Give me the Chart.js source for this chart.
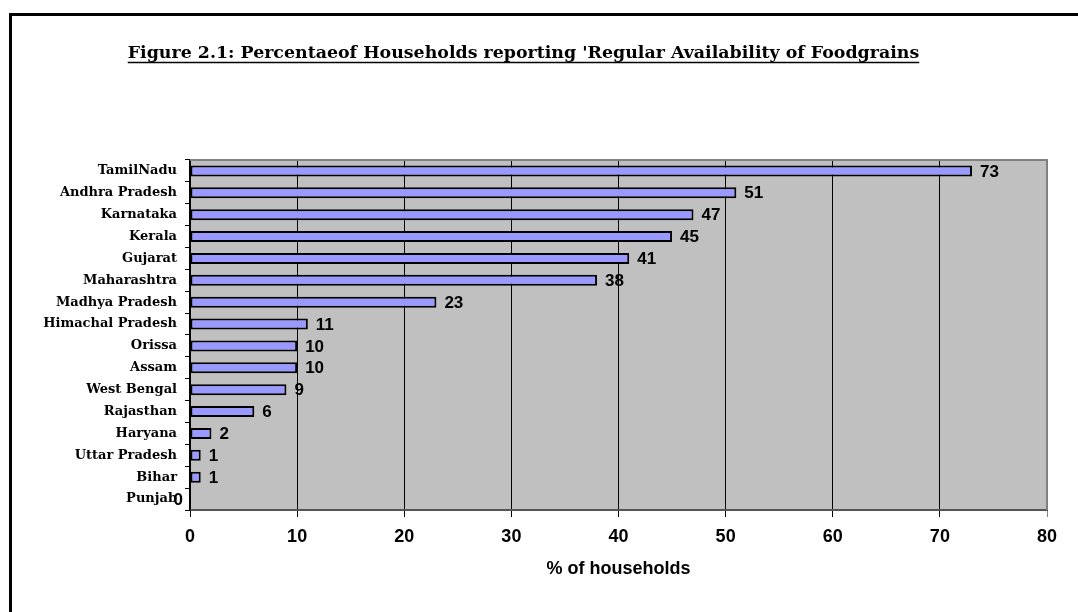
<!DOCTYPE html>
<html>
<head>
<meta charset="utf-8">
<script src="https://cdn.jsdelivr.net/npm/chart.js@4/dist/chart.umd.min.js"></script>
<style>
  body { margin: 0; background: #fff; }
  #wrap { position: relative; width: 1078px; height: 612px; overflow: hidden; }
  #frame { position: absolute; left: 9px; top: 13px; width: 1200px; height: 800px;
           border-left: 3px solid #000; border-top: 3px solid #000; }
  canvas { position: absolute; left: 0; top: 0; }
</style>
</head>
<body>
<div id="wrap">
  <div id="frame"></div>
  <canvas id="barChart" width="1078" height="612"></canvas>
</div>
<script>
// * data
const states = [
  "TamilNadu", "Andhra Pradesh", "Karnataka", "Kerala", "Gujarat",
  "Maharashtra", "Madhya Pradesh", "Himachal Pradesh", "Orissa", "Assam",
  "West Bengal", "Rajasthan", "Haryana", "Uttar Pradesh", "Bihar", "Punjab",
];
const households = [73, 51, 47, 45, 41, 38, 23, 11, 10, 10, 9, 6, 2, 1, 1, 0];
const xTicks = [0, 10, 20, 30, 40, 50, 60, 70, 80];

const titleText = "Figure 2.1: Percentaeof Households reporting 'Regular Availability of Foodgrains";
const serif = "'DejaVu Serif', 'Liberation Serif', serif";
const sans = "'Liberation Sans', Arial, sans-serif";
const titleSize = 17.4;

// * plugins
const plotArea = {
  id: "plotArea",
  beforeDraw(chart) {
    const { ctx, chartArea: a } = chart;
    ctx.save();
    ctx.fillStyle = "#c0c0c0";
    ctx.fillRect(a.left, a.top, a.right - a.left, a.bottom - a.top);
    ctx.restore();
  },
  afterDraw(chart) {
    const { ctx, chartArea: a } = chart;
    ctx.save();
    ctx.strokeStyle = "#808080";
    ctx.lineWidth = 2;
    ctx.beginPath();
    ctx.moveTo(a.left, a.top);
    ctx.lineTo(a.right, a.top);
    ctx.lineTo(a.right, a.bottom);
    ctx.stroke();

    // underline the title
    const tb = chart.titleBlock;
    ctx.font = "bold " + titleSize + "px " + serif;
    const w = ctx.measureText(titleText).width;
    const cx = (tb.left + tb.right) / 2;
    ctx.strokeStyle = "#000";
    ctx.lineWidth = 1.3;
    ctx.beginPath();
    ctx.moveTo(cx - w / 2, 62.5);
    ctx.lineTo(cx + w / 2, 62.5);
    ctx.stroke();
    ctx.restore();
  },
};

const valueLabels = {
  id: "valueLabels",
  afterDatasetsDraw(chart) {
    const { ctx } = chart;
    const meta = chart.getDatasetMeta(0);
    ctx.save();
    ctx.font = "bold 17px " + sans;
    ctx.fillStyle = "#000";
    ctx.textBaseline = "middle";
    meta.data.forEach((bar, i) => {
      const v = households[i];
      if (v > 0) {
        ctx.textAlign = "left";
        ctx.fillText(String(v), bar.x + 8, bar.y + 1);
      } else {
        ctx.textAlign = "right";
        ctx.fillText(String(v), bar.x - 7, bar.y + 1);
      }
    });
    ctx.restore();
  },
};

// * BAR CHART
const config = {
  type: "bar",
  data: {
    labels: states,
    datasets: [
      {
        label: "% of households",
        data: households,
        backgroundColor: "#9999ff",
        borderColor: "#000",
        borderWidth: 2,
        borderSkipped: false,
        barPercentage: 0.5,
        categoryPercentage: 1,
      },
    ],
  },
  options: {
    indexAxis: "y",
    responsive: false,
    animation: false,
    layout: { padding: { left: 0, right: 31, top: 0, bottom: 0 } },
    plugins: {
      legend: { display: false },
      tooltip: { enabled: false },
      title: {
        display: true,
        text: titleText,
        color: "#000",
        font: { family: serif, size: titleSize, weight: "bold", lineHeight: 1.2 },
        padding: { top: 43.5, bottom: 95.6 },
      },
    },
    scales: {
      x: {
        min: 0,
        max: 80,
        afterBuildTicks: (s) => { s.ticks = xTicks.map((v) => ({ value: v })); },
        afterFit: (s) => { s.height = 102; },
        ticks: {
          color: "#000",
          font: { family: sans, size: 18, weight: "bold", lineHeight: 1.2 },
          padding: 9,
        },
        grid: {
          color: (c) => (c.tick && c.tick.value === 80 ? "#808080" : "#000"),
          lineWidth: 1,
          tickLength: 7,
        },
        border: { color: "#555", width: 2 },
        title: {
          display: true,
          text: "% of households",
          color: "#000",
          font: { family: sans, size: 18, weight: "bold", lineHeight: 1.2 },
          padding: { top: 4, bottom: 32 },
        },
      },
      y: {
        afterFit: (s) => { s.width = 190; },
        ticks: {
          color: "#000",
          font: { family: serif, size: 13, weight: "bold" },
          padding: 8,
          autoSkip: false,
        },
        grid: {
          offset: true,
          drawOnChartArea: false,
          color: "#000",
          tickLength: 5,
        },
        border: { color: "#000", width: 1.5 },
      },
    },
  },
  plugins: [plotArea, valueLabels],
};

new Chart(document.getElementById("barChart").getContext("2d"), config);
</script>
</body>
</html>
